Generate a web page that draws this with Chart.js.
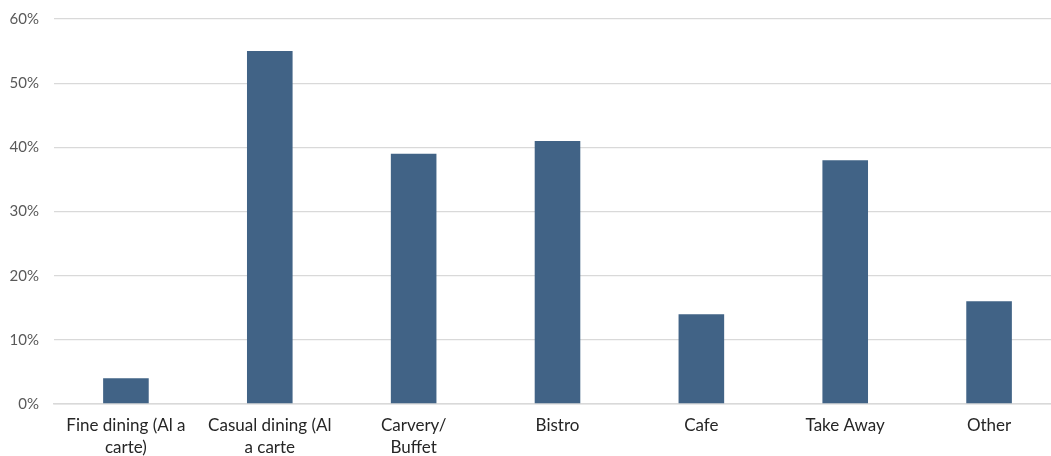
<!DOCTYPE html>
<html>
<head>
<meta charset="utf-8">
<script src="https://cdn.jsdelivr.net/npm/chart.js@4"></script>
<style>
  html, body { margin: 0; padding: 0; overflow: hidden; background: #fff; }
</style>
</head>
<body>
<canvas id="chart" width="1061" height="456"></canvas>
<script>
// categories (multi-line labels as in the original)
var categories = [
    ['Fine dining (Al a', 'carte)'],
    ['Casual dining (Al', 'a carte'],
    ['Carvery/', 'Buffet'],
    'Bistro',
    'Cafe',
    'Take Away',
    'Other'
];
// share of respondents, in %
var shares = [4, 55, 39, 41, 14, 38, 16];
var yTicks = [0, 10, 20, 30, 40, 50, 60];

var ctx = document.getElementById('chart').getContext('2d');
var chart = new Chart(ctx, {
    type: 'bar',
    data: {
        labels: categories,
        datasets: [{
            data: shares,
            backgroundColor: '#416386',
            borderWidth: 0,
            barPercentage: 0.317,
            categoryPercentage: 1
        }]
    },
    options: {
        responsive: false,
        animation: false,
        layout: { padding: { top: 19, right: 0, left: 0, bottom: 0 } },
        plugins: {
            legend: { display: false },
            tooltip: { enabled: false }
        },
        scales: {
            x: {
                grid: { display: false, drawTicks: false },
                border: { display: true, color: '#d9d9d9', width: 1.5 },
                ticks: {
                    color: '#262626',
                    font: { family: 'Lato', size: 17, lineHeight: 1.3 },
                    padding: 10,
                    maxRotation: 0,
                    autoSkip: false
                },
                afterFit: function (scale) { scale.height = 52; }
            },
            y: {
                min: 0,
                max: 60,
                afterBuildTicks: function (scale) {
                    scale.ticks = yTicks.map(v => ({ value: v }));
                },
                grid: { color: '#d9d9d9', lineWidth: 1.3, drawTicks: false },
                border: { display: false },
                ticks: {
                    color: '#595959',
                    font: { family: 'Lato', size: 15 },
                    padding: 15,
                    callback: v => v + '%'
                },
                afterFit: function (scale) {
                    scale.width = 54;
                    scale.paddingTop = 0;
                    scale.paddingBottom = 0;
                }
            }
        }
    }
});
</script>
</body>
</html>
